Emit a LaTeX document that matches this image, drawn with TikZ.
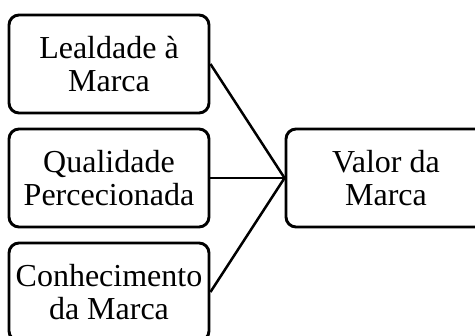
\documentclass[tikz,border=0pt]{standalone}
\usepackage{fontspec}
\setmainfont{Liberation Serif}
\begin{document}
\begin{tikzpicture}[x=1pt,y=-1pt,
  box/.style={draw=black, line width=2.9pt, rounded corners=10pt, fill=white,
    minimum width=200pt, minimum height=98pt, align=center, inner sep=0pt,
    font=\fontsize{32}{33}\selectfont},
  link/.style={draw=black, line width=2.5pt}]
\useasboundingbox (0,0) rectangle (475,336);
\clip (0,0) rectangle (475,336);
\node[box] (a) at (109,64) {Lealdade à\\Marca};
\node[box] (b) at (109,178) {Qualidade\\Percecionada};
\node[box] (c) at (109,292) {Conhecimento\\da Marca};
\node[box] (d) at (386,178) {Valor da\\Marca};
\draw[link] (a.east) -- (d.west);
\draw[link] (b.east) -- (d.west);
\draw[link] (c.east) -- (d.west);
\end{tikzpicture}
\end{document}
